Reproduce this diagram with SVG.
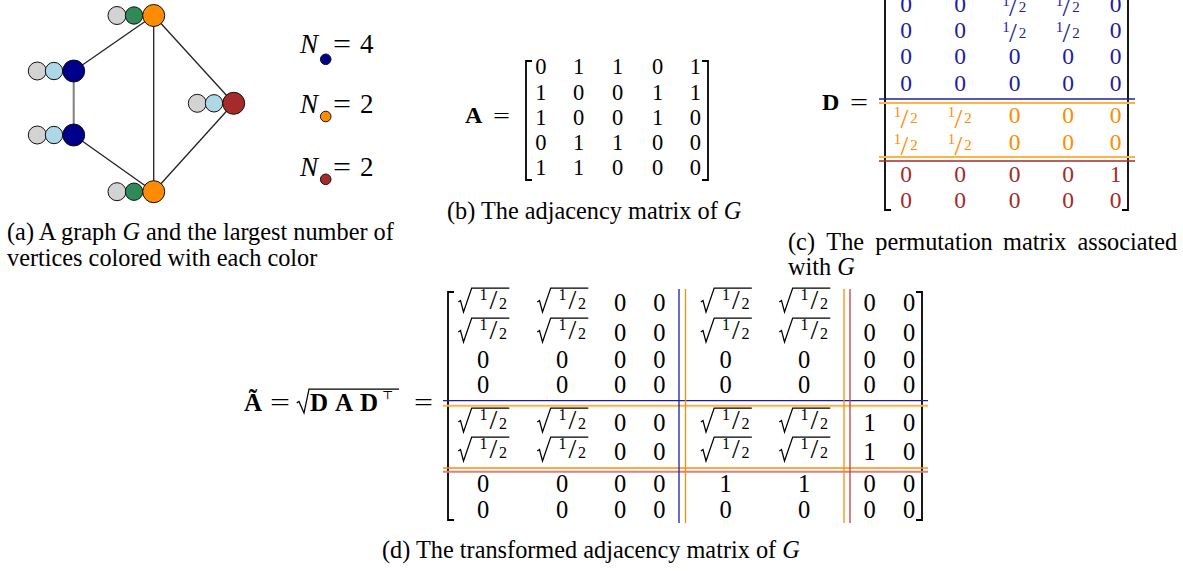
<svg xmlns="http://www.w3.org/2000/svg" xmlns:xlink="http://www.w3.org/1999/xlink" width="1183" height="571" viewBox="0 0 1183 571">
<defs>
<style>
.s{font-family:"Liberation Serif","Times New Roman",serif;fill:#000}
.c{text-anchor:middle}
.it{font-style:italic}
.b{font-weight:bold}
.cap{font-size:24.3px}
.fa{font-size:22.5px}
.fd{font-size:23.5px}
.ft{font-size:24.5px}
.sm{font-size:15px}
.sm2{font-size:16px}
.sl{font-size:28px}
.bl{fill:#1e1e9a}
.or{fill:#ff8c00}
.rd{fill:#a52a2a}
.edge{stroke:#222;stroke-width:1.3;fill:none}
.nd{stroke:#111;stroke-width:1}
.br{fill:none;stroke:#000;stroke-width:1.8}
.radp{fill:none;stroke:#000;stroke-width:1.25;stroke-linejoin:miter}
</style>
<path id="rad" class="radp" d="M-24.7,-9 L-22.5,-10.5 L-19.5,1 L-11.3,-23 L26.3,-23"/>
</defs>
<rect width="1183" height="571" fill="#fff"/>

<g id="connectors">
<line class="edge" x1="153.7" y1="15.5" x2="73.7" y2="71"/>
<line class="edge" x1="153.7" y1="15.5" x2="153.7" y2="191.7"/>
<line class="edge" x1="153.7" y1="15.5" x2="233.7" y2="103.3"/>
<line x1="73.7" y1="71" x2="73.7" y2="135" stroke="#808080" stroke-width="2"/>
<line class="edge" x1="73.7" y1="135" x2="153.7" y2="191.7"/>
<line class="edge" x1="153.7" y1="191.7" x2="233.7" y2="103.3"/>
</g>
<g id="node-top">
<circle class="nd" cx="117" cy="15.5" r="9" fill="#d3d3d3"/>
<circle class="nd" cx="134" cy="15.5" r="8.7" fill="#2e8b57"/>
<circle class="nd" cx="153.7" cy="15.5" r="11" fill="#ff8c00"/>
</g>
<g id="node-left-top">
<circle class="nd" cx="37.3" cy="71" r="9" fill="#d3d3d3"/>
<circle class="nd" cx="54" cy="71" r="8.7" fill="#add8e6"/>
<circle class="nd" cx="73.7" cy="71" r="11" fill="#00008b"/>
</g>
<g id="node-left-bottom">
<circle class="nd" cx="37.3" cy="135" r="9" fill="#d3d3d3"/>
<circle class="nd" cx="54" cy="135" r="8.7" fill="#add8e6"/>
<circle class="nd" cx="73.7" cy="135" r="11" fill="#00008b"/>
</g>
<g id="node-right">
<circle class="nd" cx="197.3" cy="103.3" r="9" fill="#d3d3d3"/>
<circle class="nd" cx="214" cy="103.3" r="8.7" fill="#add8e6"/>
<circle class="nd" cx="233.7" cy="103.3" r="11" fill="#a52a2a"/>
</g>
<g id="node-bottom">
<circle class="nd" cx="117" cy="191.7" r="9" fill="#d3d3d3"/>
<circle class="nd" cx="134" cy="191.7" r="8.7" fill="#2e8b57"/>
<circle class="nd" cx="153.7" cy="191.7" r="11" fill="#ff8c00"/>
</g>

<g id="counts">
<text class="s it" font-size="27" x="300" y="53">N</text>
<circle class="nd" cx="325.7" cy="59.3" r="5.3" fill="#00008b"/>
<text class="s" font-size="27" x="333" y="53" textLength="18" lengthAdjust="spacingAndGlyphs">=</text>
<text class="s" font-size="27" x="360" y="53">4</text>
<text class="s it" font-size="27" x="300" y="113">N</text>
<circle class="nd" cx="325.7" cy="116.5" r="5.3" fill="#ff8c00"/>
<text class="s" font-size="27" x="333" y="113" textLength="18" lengthAdjust="spacingAndGlyphs">=</text>
<text class="s" font-size="27" x="360" y="113">2</text>
<text class="s it" font-size="27" x="300" y="176">N</text>
<circle class="nd" cx="325.7" cy="179.3" r="5.3" fill="#a52a2a"/>
<text class="s" font-size="27" x="333" y="176" textLength="18" lengthAdjust="spacingAndGlyphs">=</text>
<text class="s" font-size="27" x="360" y="176">2</text>
</g>

<g id="caption-a">
<text class="s cap" x="7" y="240">(a) A graph <tspan class="it">G</tspan> and the largest number of</text>
<text class="s cap" x="7" y="266">vertices colored with each color</text>
</g>

<g id="matrix-A">
<text class="s b" font-size="24" x="465" y="123">A</text>
<text class="s" font-size="22" x="493" y="123" textLength="17" lengthAdjust="spacingAndGlyphs">=</text>
<path class="br" d="M532,61 L526,61 L526,180 L532,180"/>
<path class="br" d="M702,61 L708,61 L708,180 L702,180"/>
<g class="s c fa">
<text x="540.8" y="74.3">0</text><text x="578.7" y="74.3">1</text><text x="617.5" y="74.3">1</text><text x="657.5" y="74.3">0</text><text x="695.3" y="74.3">1</text>
<text x="540.8" y="99.5">1</text><text x="578.7" y="99.5">0</text><text x="617.5" y="99.5">0</text><text x="657.5" y="99.5">1</text><text x="695.3" y="99.5">1</text>
<text x="540.8" y="124.7">1</text><text x="578.7" y="124.7">0</text><text x="617.5" y="124.7">0</text><text x="657.5" y="124.7">1</text><text x="695.3" y="124.7">0</text>
<text x="540.8" y="149.9">0</text><text x="578.7" y="149.9">1</text><text x="617.5" y="149.9">1</text><text x="657.5" y="149.9">0</text><text x="695.3" y="149.9">0</text>
<text x="540.8" y="175">1</text><text x="578.7" y="175">1</text><text x="617.5" y="175">0</text><text x="657.5" y="175">0</text><text x="695.3" y="175">0</text>
</g>
</g>
<g id="caption-b">
<text class="s cap" x="447" y="219">(b) The adjacency matrix of <tspan class="it">G</tspan></text>
</g>

<g id="matrix-D">
<text class="s b" font-size="24" x="822" y="110">D</text>
<text class="s" font-size="23" x="850" y="110" textLength="18" lengthAdjust="spacingAndGlyphs">=</text>
<path class="br" d="M891,-12 L885,-12 L885,210 L891,210"/>
<path class="br" d="M1122,-12 L1128,-12 L1128,210 L1122,210"/>
<line x1="879" y1="99" x2="1135" y2="99" stroke="#1e1e9a" stroke-width="1.3"/>
<line x1="879" y1="103" x2="1135" y2="103" stroke="#ffb347" stroke-width="2"/>
<line x1="879" y1="157" x2="1135" y2="157" stroke="#ffb347" stroke-width="2"/>
<line x1="879" y1="161" x2="1135" y2="161" stroke="#a52a2a" stroke-width="1.3"/>
<g class="s c fd bl">
<text x="906" y="11.5">0</text><text x="960" y="11.5">0</text><text x="1115.5" y="11.5">0</text>
<text class="sm" x="1006" y="5.5">1</text><text class="sl" x="1013" y="16">/</text><text class="sm" x="1022.5" y="11.5">2</text>
<text class="sm" x="1059.5" y="5.5">1</text><text class="sl" x="1066.5" y="16">/</text><text class="sm" x="1076" y="11.5">2</text>
<text x="906" y="37.7">0</text><text x="960" y="37.7">0</text><text x="1115.5" y="37.7">0</text>
<text class="sm" x="1006" y="31.7">1</text><text class="sl" x="1013" y="42.2">/</text><text class="sm" x="1022.5" y="37.7">2</text>
<text class="sm" x="1059.5" y="31.7">1</text><text class="sl" x="1066.5" y="42.2">/</text><text class="sm" x="1076" y="37.7">2</text>
<text x="906" y="64.3">0</text><text x="960" y="64.3">0</text><text x="1014.5" y="64.3">0</text><text x="1068" y="64.3">0</text><text x="1115.5" y="64.3">0</text>
<text x="906" y="90.7">0</text><text x="960" y="90.7">0</text><text x="1014.5" y="90.7">0</text><text x="1068" y="90.7">0</text><text x="1115.5" y="90.7">0</text>
</g>
<g class="s c fd or">
<text class="sm" x="897.5" y="117.3">1</text><text class="sl" x="904.5" y="127.8">/</text><text class="sm" x="914" y="123.3">2</text>
<text class="sm" x="951.5" y="117.3">1</text><text class="sl" x="958.5" y="127.8">/</text><text class="sm" x="968" y="123.3">2</text>
<text x="1014.5" y="123.3">0</text><text x="1068" y="123.3">0</text><text x="1115.5" y="123.3">0</text>
<text class="sm" x="897.5" y="144">1</text><text class="sl" x="904.5" y="154.5">/</text><text class="sm" x="914" y="150">2</text>
<text class="sm" x="951.5" y="144">1</text><text class="sl" x="958.5" y="154.5">/</text><text class="sm" x="968" y="150">2</text>
<text x="1014.5" y="150">0</text><text x="1068" y="150">0</text><text x="1115.5" y="150">0</text>
</g>
<g class="s c fd rd">
<text x="906" y="181.7">0</text><text x="960" y="181.7">0</text><text x="1014.5" y="181.7">0</text><text x="1068" y="181.7">0</text><text x="1115.5" y="181.7">1</text>
<text x="906" y="208.3">0</text><text x="960" y="208.3">0</text><text x="1014.5" y="208.3">0</text><text x="1068" y="208.3">0</text><text x="1115.5" y="208.3">0</text>
</g>
</g>
<g id="caption-c" class="s cap">
<text x="788" y="250">(c)</text>
<text x="826.3" y="250">The</text>
<text x="875.3" y="250">permutation</text>
<text x="1003" y="250">matrix</text>
<text x="1077.4" y="250">associated</text>
<text x="788" y="275">with <tspan class="it">G</tspan></text>
</g>

<g id="matrix-Atilde">
<text class="s b" font-size="25" x="244" y="411">Ã</text>
<text class="s ft" x="270" y="411" textLength="20" lengthAdjust="spacingAndGlyphs">=</text>
<path class="radp" d="M296.7,403 L299,401.5 L304,413 L309,389 L399,389"/>
<text class="s b" font-size="25" x="310" y="411">D</text>
<text class="s b" font-size="25" x="335" y="411">A</text>
<text class="s b" font-size="25" x="360" y="411">D</text>
<text style="font-family:'DejaVu Serif','DejaVu Sans',serif;fill:#000" font-size="12" x="382" y="399">⊤</text>
<text class="s ft" x="414" y="411" textLength="19" lengthAdjust="spacingAndGlyphs">=</text>
<path class="br" d="M454,292 L448,292 L448,520 L454,520"/>
<path class="br" d="M916,292 L922,292 L922,520 L916,520"/>
<line x1="443" y1="400.7" x2="928" y2="400.7" stroke="#1e1e9a" stroke-width="1.3"/>
<line x1="443" y1="405.7" x2="928" y2="405.7" stroke="#ffb347" stroke-width="2"/>
<line x1="443" y1="468" x2="928" y2="468" stroke="#ff8c00" stroke-width="1.3"/>
<line x1="443" y1="471.7" x2="928" y2="471.7" stroke="#d98080" stroke-width="2"/>
<line x1="679" y1="289" x2="679" y2="523" stroke="#1e1e9a" stroke-width="1.3"/>
<line x1="685.5" y1="289" x2="685.5" y2="523" stroke="#ff8c00" stroke-width="1.3"/>
<line x1="844" y1="289" x2="844" y2="523" stroke="#ff8c00" stroke-width="1.3"/>
<line x1="850" y1="289" x2="850" y2="523" stroke="#c04040" stroke-width="1.3"/>
<g>
<use xlink:href="#rad" x="483" y="311"/><use xlink:href="#rad" x="562" y="311"/><use xlink:href="#rad" x="725.5" y="311"/><use xlink:href="#rad" x="804" y="311"/>
<use xlink:href="#rad" x="483" y="341"/><use xlink:href="#rad" x="562" y="341"/><use xlink:href="#rad" x="725.5" y="341"/><use xlink:href="#rad" x="804" y="341"/>
<use xlink:href="#rad" x="483" y="431"/><use xlink:href="#rad" x="562" y="431"/><use xlink:href="#rad" x="725.5" y="431"/><use xlink:href="#rad" x="804" y="431"/>
<use xlink:href="#rad" x="483" y="460"/><use xlink:href="#rad" x="562" y="460"/><use xlink:href="#rad" x="725.5" y="460"/><use xlink:href="#rad" x="804" y="460"/>
</g>
<g class="s c ft">
<text class="sm2" x="483.5" y="299.5">1</text><text class="sl" x="493.5" y="308.5">/</text><text class="sm2" x="503" y="309">2</text>
<text class="sm2" x="562.5" y="299.5">1</text><text class="sl" x="572.5" y="308.5">/</text><text class="sm2" x="582" y="309">2</text>
<text x="620" y="311">0</text><text x="659.3" y="311">0</text>
<text class="sm2" x="726" y="299.5">1</text><text class="sl" x="736" y="308.5">/</text><text class="sm2" x="745.5" y="309">2</text>
<text class="sm2" x="804.5" y="299.5">1</text><text class="sl" x="814.5" y="308.5">/</text><text class="sm2" x="824" y="309">2</text>
<text x="869.5" y="311">0</text><text x="909" y="311">0</text>

<text class="sm2" x="483.5" y="329.5">1</text><text class="sl" x="493.5" y="338.5">/</text><text class="sm2" x="503" y="339">2</text>
<text class="sm2" x="562.5" y="329.5">1</text><text class="sl" x="572.5" y="338.5">/</text><text class="sm2" x="582" y="339">2</text>
<text x="620" y="341">0</text><text x="659.3" y="341">0</text>
<text class="sm2" x="726" y="329.5">1</text><text class="sl" x="736" y="338.5">/</text><text class="sm2" x="745.5" y="339">2</text>
<text class="sm2" x="804.5" y="329.5">1</text><text class="sl" x="814.5" y="338.5">/</text><text class="sm2" x="824" y="339">2</text>
<text x="869.5" y="341">0</text><text x="909" y="341">0</text>

<text x="483" y="367.7">0</text><text x="562" y="367.7">0</text><text x="620" y="367.7">0</text><text x="659.3" y="367.7">0</text><text x="725.5" y="367.7">0</text><text x="804" y="367.7">0</text><text x="869.5" y="367.7">0</text><text x="909" y="367.7">0</text>
<text x="483" y="393.3">0</text><text x="562" y="393.3">0</text><text x="620" y="393.3">0</text><text x="659.3" y="393.3">0</text><text x="725.5" y="393.3">0</text><text x="804" y="393.3">0</text><text x="869.5" y="393.3">0</text><text x="909" y="393.3">0</text>

<text class="sm2" x="483.5" y="419.5">1</text><text class="sl" x="493.5" y="428.5">/</text><text class="sm2" x="503" y="429">2</text>
<text class="sm2" x="562.5" y="419.5">1</text><text class="sl" x="572.5" y="428.5">/</text><text class="sm2" x="582" y="429">2</text>
<text x="620" y="431">0</text><text x="659.3" y="431">0</text>
<text class="sm2" x="726" y="419.5">1</text><text class="sl" x="736" y="428.5">/</text><text class="sm2" x="745.5" y="429">2</text>
<text class="sm2" x="804.5" y="419.5">1</text><text class="sl" x="814.5" y="428.5">/</text><text class="sm2" x="824" y="429">2</text>
<text x="869.5" y="431">1</text><text x="909" y="431">0</text>

<text class="sm2" x="483.5" y="448.5">1</text><text class="sl" x="493.5" y="457.5">/</text><text class="sm2" x="503" y="458">2</text>
<text class="sm2" x="562.5" y="448.5">1</text><text class="sl" x="572.5" y="457.5">/</text><text class="sm2" x="582" y="458">2</text>
<text x="620" y="460">0</text><text x="659.3" y="460">0</text>
<text class="sm2" x="726" y="448.5">1</text><text class="sl" x="736" y="457.5">/</text><text class="sm2" x="745.5" y="458">2</text>
<text class="sm2" x="804.5" y="448.5">1</text><text class="sl" x="814.5" y="457.5">/</text><text class="sm2" x="824" y="458">2</text>
<text x="869.5" y="460">1</text><text x="909" y="460">0</text>

<text x="483" y="492.3">0</text><text x="562" y="492.3">0</text><text x="620" y="492.3">0</text><text x="659.3" y="492.3">0</text><text x="725.5" y="492.3">1</text><text x="804" y="492.3">1</text><text x="869.5" y="492.3">0</text><text x="909" y="492.3">0</text>
<text x="483" y="518.3">0</text><text x="562" y="518.3">0</text><text x="620" y="518.3">0</text><text x="659.3" y="518.3">0</text><text x="725.5" y="518.3">0</text><text x="804" y="518.3">0</text><text x="869.5" y="518.3">0</text><text x="909" y="518.3">0</text>
</g>
</g>
<g id="caption-d">
<text class="s cap" x="382" y="558">(d) The transformed adjacency matrix of <tspan class="it">G</tspan></text>
</g>
</svg>
